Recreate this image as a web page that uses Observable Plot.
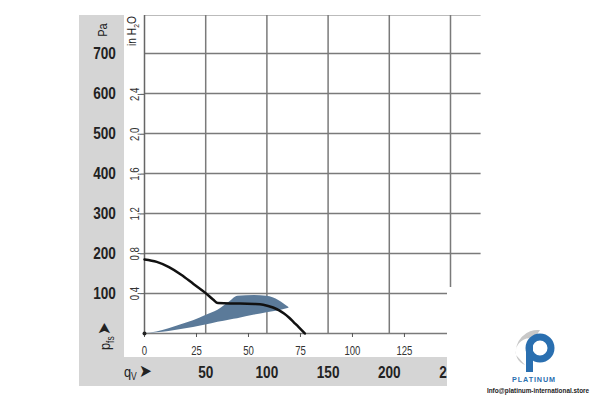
<!DOCTYPE html>
<html>
<head>
<meta charset="utf-8">
<script src="https://cdn.jsdelivr.net/npm/d3@7"></script>
<script src="https://cdn.jsdelivr.net/npm/@observablehq/plot@0.6"></script>
<style>
  html, body { margin: 0; padding: 0; background: #fff; }
  #chart { width: 600px; height: 400px; }
  svg { font-family: "Liberation Sans", Arial, sans-serif; }
</style>
</head>
<body>
<div id="chart"></div>
<script>
// ---- data ----
const paTicks = [100, 200, 300, 400, 500, 600, 700];          // Pa grid / labels
const inH2OTicks = [0.4, 0.8, 1.2, 1.6, 2.0, 2.4];            // in H2O labels
const cfmTicks = [0, 25, 50, 75, 100, 125];                   // cfm labels
const m3hTicks = [50, 100, 150, 200, 250];                    // m³/h labels / grid

// fan curve: flow (m³/h) vs static pressure (Pa)
const curveQ = [0, 10, 20, 30, 40, 50, 56, 60, 70, 78, 90, 97, 105, 110, 114, 118, 122, 126, 131];
const curveP = [185, 179, 166, 147, 124, 101, 85, 76, 75, 75, 74, 72, 65, 58, 50, 40, 28, 16, 0];

// shaded operating range: flow (m³/h), lower and upper pressure (Pa)
const bandQ  = [0, 10, 20, 30, 40, 50, 60, 70, 76, 90, 100, 110, 118];
const bandLo = [0, 2, 5, 10, 15, 21, 28, 34, 37, 46, 52, 57, 63];
const bandHi = [0, 4, 12, 22, 32, 45, 58, 80, 93, 95, 93, 82, 65];

const PA_PER_INH2O = 249.09;
const M3H_PER_CFM = 1.699;

const curve = curveQ.map((q, i) => ({q, p: curveP[i]}));
const band = bandQ.map((q, i) => ({q, lo: bandLo[i], hi: bandHi[i]}));

const yTop = 795;
const xRight = 275;
const grid = "#7a7a7a";

const plot = Plot.plot({
  width: 600,
  height: 400,
  marginLeft: 144,
  marginTop: 15,
  marginRight: 150,
  marginBottom: 67,
  x: {domain: [0, 250], axis: null},
  y: {domain: [0, yTop], axis: null},
  style: {background: "transparent", overflow: "visible"},
  marks: [
    // grid
    Plot.ruleY([yTop], {x1: 0, x2: xRight, stroke: "#bbb", strokeWidth: 1.2}),
    Plot.ruleY(paTicks, {x1: 0, x2: xRight, stroke: grid, strokeWidth: 1.5}),
    Plot.ruleY([0], {x1: 0, x2: xRight, stroke: grid, strokeWidth: 1.5}),
    Plot.ruleX(m3hTicks, {y1: 0, y2: yTop, stroke: grid, strokeWidth: 1.5}),
    Plot.ruleX([0], {y1: 0, y2: yTop, stroke: "#666", strokeWidth: 1.5}),
    // small ticks
    Plot.ruleX(cfmTicks, {x: d => d * M3H_PER_CFM, y1: 0, y2: -10, stroke: "#555", strokeWidth: 1}),
    Plot.ruleY(inH2OTicks, {y: d => d * PA_PER_INH2O, x1: 0, x2: -3, stroke: "#555", strokeWidth: 1}),
    // operating band
    Plot.areaY(band, {x: "q", y1: "lo", y2: "hi", fill: "#5b7a99", curve: "monotone-x"}),
    // fan curve
    Plot.line(curve, {x: "q", y: "p", stroke: "#111", strokeWidth: 2.5, curve: "monotone-x"}),
    Plot.dot([0], {x: 0, y: 0, r: 2, fill: "#222"}),
    // labels
    Plot.text(paTicks, {x: 0, y: d => d, dx: -40, text: d => String(d), fontSize: 17, fontWeight: "bold", fill: "#222", textAnchor: "middle"}),
    Plot.text(inH2OTicks, {x: 0, y: d => d * PA_PER_INH2O, dx: -9, rotate: -90, text: d => d.toFixed(1).replace(".", ","), fontSize: 12, fill: "#333", textAnchor: "middle"}),
    Plot.text(cfmTicks, {x: d => d * M3H_PER_CFM, y: 0, dy: 18, text: d => String(d), fontSize: 12, fill: "#333", textAnchor: "middle"}),
    Plot.text(m3hTicks, {x: d => d, y: 0, dy: 39, text: d => String(d), fontSize: 17, fontWeight: "bold", fill: "#222", textAnchor: "middle"})
  ]
});

document.getElementById("chart").appendChild(plot);
const svg = d3.select(plot);

// narrow the label glyphs (Arial Narrow look)
svg.selectAll('g[aria-label="text"] text').each(function() {
  const tr = this.getAttribute("transform") || "";
  this.setAttribute("transform", tr + " scale(0.8,1)");
});

// gray L-shaped label band behind everything
const bg = svg.insert("g", ":first-child");
bg.append("rect").attr("x", 79).attr("y", 15).attr("width", 45).attr("height", 371).attr("fill", "#d5d5d5");
bg.append("rect").attr("x", 79).attr("y", 357).attr("width", 521).attr("height", 29).attr("fill", "#d5d5d5");

// axis titles
const t = svg.append("g").attr("fill", "#222");
t.append("text").attr("transform", "translate(107,30) rotate(-90) scale(0.85,1)").attr("text-anchor", "middle")
  .attr("font-size", 13).text("Pa");
const h = t.append("text").attr("transform", "translate(136,31) rotate(-90) scale(0.85,1)").attr("text-anchor", "middle")
  .attr("font-size", 12);
h.append("tspan").text("in H");
h.append("tspan").attr("font-size", 8).attr("dy", 3).text("2");
h.append("tspan").attr("dy", -3).text("O");

const p = t.append("text").attr("transform", "translate(110,350) rotate(-90) scale(0.85,1)").attr("text-anchor", "start")
  .attr("font-size", 15);
p.append("tspan").text("p");
p.append("tspan").attr("font-size", 10).attr("dy", 4).text("fs");
p.append("tspan").attr("dy", -4).attr("font-size", 18).attr("dx", 2).text("➤");

const q = t.append("text").attr("transform", "translate(124,377) scale(0.85,1)").attr("text-anchor", "start")
  .attr("font-size", 15);
q.append("tspan").text("q");
q.append("tspan").attr("font-size", 10).attr("dy", 3).text("V");
q.append("tspan").attr("dy", -3).attr("font-size", 18).attr("dx", 3).text("➤");

// white watermark block at the bottom right
const wm = svg.append("g");
wm.append("rect").attr("x", 447).attr("y", 287).attr("width", 153).attr("height", 113).attr("fill", "#fff");
// simple logo
wm.append("path").attr("d", "M516,355 A22,22 0 0 1 540,330 L534,339 A13,13 0 0 0 525,365 Z").attr("fill", "#c8c8c8");
wm.append("circle").attr("cx", 540).attr("cy", 348).attr("r", 11).attr("fill", "none").attr("stroke", "#2a6fb0").attr("stroke-width", 7);
wm.append("rect").attr("x", 526).attr("y", 344).attr("width", 7).attr("height", 28).attr("fill", "#2a6fb0");
wm.append("text").attr("transform", "translate(534,382) scale(0.9,1)").attr("text-anchor", "middle").attr("font-size", 8)
  .attr("font-weight", "bold").attr("letter-spacing", 1).attr("fill", "#2a6fb0").text("PLATINUM");
wm.append("text").attr("transform", "translate(538,393) scale(0.85,1)").attr("text-anchor", "middle").attr("font-size", 7.5)
  .attr("font-weight", "bold").attr("fill", "#222").text("Info@platinum-international.store");
</script>
</body>
</html>
